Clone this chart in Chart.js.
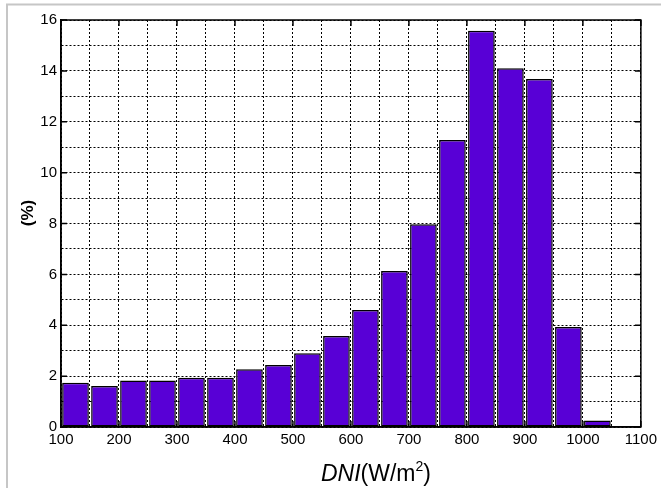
<!DOCTYPE html>
<html>
<head>
<meta charset="utf-8">
<script src="https://cdn.jsdelivr.net/npm/chart.js@4"></script>
<style>
  html, body { margin: 0; padding: 0; background: #fff; }
  #wrap { width: 661px; height: 493px; }
</style>
</head>
<body>
<div id="wrap"><canvas id="c" width="661" height="493"></canvas></div>
<script>
// DNI bins (centre of each 50 W/m2 bin) and share of hours in each bin (%)
const binCenters = [125, 175, 225, 275, 325, 375, 425, 475, 525, 575,
                    625, 675, 725, 775, 825, 875, 925, 975, 1025];
const percentages = [1.74, 1.61, 1.83, 1.83, 1.94, 1.94, 2.27, 2.44, 2.90, 3.58,
                     4.60, 6.13, 7.97, 11.28, 15.58, 14.10, 13.68, 3.93, 0.26];
const xRange = [100, 1100];
const yRange = [0, 16];
const xLabelStep = 100;
const yLabelStep = 2;

const FONT = '"Liberation Sans", Arial, sans-serif';

const framePlugin = {
  id: 'frame',
  beforeDraw(chart) {
    const ctx = chart.ctx;
    ctx.save();
    ctx.fillStyle = '#fff';
    ctx.fillRect(0, 0, chart.width, chart.height);
    ctx.strokeStyle = '#c6c6c6';
    ctx.lineWidth = 2;
    ctx.beginPath();
    ctx.moveTo(7, 488);
    ctx.lineTo(7, 4.5);
    ctx.lineTo(chart.width, 4.5);
    ctx.stroke();
    ctx.restore();
  },
  afterDraw(chart) {
    const { ctx, chartArea: a, scales: { x, y } } = chart;
    ctx.save();
    // box around the plot
    ctx.strokeStyle = '#000';
    ctx.lineWidth = 1.5;
    ctx.strokeRect(a.left, a.top, a.right - a.left, a.bottom - a.top);
    // inward tick marks at labelled values
    ctx.beginPath();
    x.ticks.forEach(t => {
      if (t.value % xLabelStep === 0) {
        const px = x.getPixelForValue(t.value);
        ctx.moveTo(px, a.bottom); ctx.lineTo(px, a.bottom - 6);
        ctx.moveTo(px, a.top); ctx.lineTo(px, a.top + 6);
      }
    });
    y.ticks.forEach(t => {
      if (t.value % yLabelStep === 0) {
        const py = y.getPixelForValue(t.value);
        ctx.moveTo(a.left, py); ctx.lineTo(a.left + 6, py);
        ctx.moveTo(a.right, py); ctx.lineTo(a.right - 6, py);
      }
    });
    ctx.stroke();

    // x axis title: DNI(W/m²)
    ctx.fillStyle = '#000';
    ctx.textBaseline = 'alphabetic';
    ctx.textAlign = 'left';
    let tx = a.left + 260;
    const ty = 481;
    ctx.font = 'italic 23px ' + FONT;
    ctx.fillText('DNI', tx, ty);
    tx += ctx.measureText('DNI').width;
    ctx.font = '23px ' + FONT;
    ctx.fillText('(W/m', tx, ty);
    tx += ctx.measureText('(W/m').width;
    ctx.font = '14px ' + FONT;
    ctx.fillText('2', tx, ty - 10);
    tx += ctx.measureText('2').width;
    ctx.font = '23px ' + FONT;
    ctx.fillText(')', tx, ty);

    // y axis title
    ctx.translate(28, 213);
    ctx.rotate(-Math.PI / 2);
    ctx.textAlign = 'center';
    ctx.textBaseline = 'middle';
    ctx.font = 'bold 17px ' + FONT;
    ctx.fillText('(%)', 0, 0);
    ctx.restore();
  }
};

new Chart(document.getElementById('c'), {
  type: 'bar',
  data: {
    datasets: [{
      data: binCenters.map((c, i) => ({ x: c, y: percentages[i] })),
      backgroundColor: '#5800d6',
      borderColor: '#000',
      borderWidth: 1.5,
      borderSkipped: false,
      categoryPercentage: 1.0,
      barPercentage: 0.92
    }]
  },
  options: {
    responsive: false,
    devicePixelRatio: 1,
    animation: false,
    layout: { padding: { top: 20, right: 19, left: 0, bottom: 0 } },
    plugins: {
      legend: { display: false },
      tooltip: { enabled: false }
    },
    scales: {
      x: {
        type: 'linear',
        min: xRange[0],
        max: xRange[1],
        offset: false,
        afterFit(scale) { scale.height = 66; },
        ticks: {
          stepSize: 50,
          autoSkip: false,
          maxRotation: 0,
          padding: 4,
          color: '#000',
          font: { family: FONT, size: 15 },
          callback: v => (v % xLabelStep === 0 ? String(v) : '')
        },
        grid: { color: '#000', lineWidth: 1, drawTicks: false, offset: false },
        border: { display: true, color: '#000', width: 1.5, dash: [2, 2] }
      },
      y: {
        min: yRange[0],
        max: yRange[1],
        afterFit(scale) { scale.width = 61; },
        ticks: {
          stepSize: 1,
          autoSkip: false,
          padding: 4,
          color: '#000',
          font: { family: FONT, size: 15 },
          callback: v => (v % yLabelStep === 0 ? String(v) : '')
        },
        grid: { color: '#000', lineWidth: 1, drawTicks: false },
        border: { display: true, color: '#000', width: 1.5, dash: [2, 2] }
      }
    }
  },
  plugins: [framePlugin]
});
</script>
</body>
</html>
